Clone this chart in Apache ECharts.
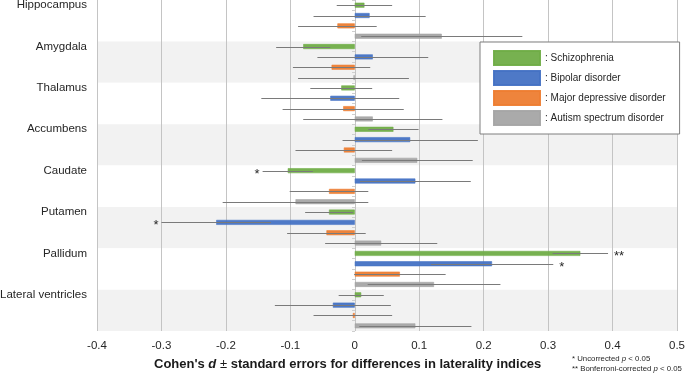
<!DOCTYPE html>
<html>
<head>
<meta charset="utf-8">
<script src="https://cdn.jsdelivr.net/npm/echarts@6/dist/echarts.min.js"></script>
<style>
  html, body { margin: 0; padding: 0; background: #fff; }
  #container { width: 685px; height: 374px; }
</style>
</head>
<body>
<div id="container"></div>
<script>
// regions, top to bottom
const regions = ['Hippocampus', 'Amygdala', 'Thalamus', 'Accumbens', 'Caudate', 'Putamen', 'Pallidum', 'Lateral ventricles'];
const disorders = ['Schizophrenia', 'Bipolar disorder', 'Major depressive disorder', 'Autism spectrum disorder'];
const colors = ['#70ad47', '#4472c4', '#ed7d31', '#a5a5a5'];

// Cohen's d per region
const sczD = [0.015, -0.080, -0.021, 0.060, -0.104, -0.040, 0.350, 0.010];
const bdD = [0.023, 0.028, -0.038, 0.086, 0.094, -0.215, 0.213, -0.034];
const mddD = [-0.027, -0.036, -0.018, -0.017, -0.040, -0.044, 0.070, -0.003];
const asdD = [0.135, -0.002, 0.028, 0.097, -0.092, 0.041, 0.123, 0.094];

// standard errors
const sczSE = [0.043, 0.042, 0.048, 0.039, 0.039, 0.037, 0.043, 0.035];
const bdSE = [0.087, 0.086, 0.107, 0.105, 0.086, 0.085, 0.095, 0.090];
const mddSE = [0.061, 0.060, 0.094, 0.075, 0.061, 0.061, 0.071, 0.061];
const asdSE = [0.125, 0.086, 0.108, 0.086, 0.113, 0.087, 0.103, 0.087];

// significance marks
const sczSig = ['', '', '', '', '*', '', '**', ''];
const bdSig = ['', '', '', '', '', '*', '*', ''];
const mddSig = ['', '', '', '', '', '', '', ''];
const asdSig = ['', '', '', '', '', '', '', ''];

const xTicks = { min: -0.4, max: 0.5, step: 0.1 };

const allD = [sczD, bdD, mddD, asdD];
const allSE = [sczSE, bdSE, mddSE, asdSE];
const allSig = [sczSig, bdSig, mddSig, asdSig];

// one category slot for each region x disorder
const cats = [];
regions.forEach(function (r) {
  disorders.forEach(function (d) { cats.push(r + '|' + d); });
});

const barSeries = disorders.map(function (name, k) {
  const data = cats.map(function () { return '-'; });
  regions.forEach(function (r, i) { data[i * 4 + k] = allD[k][i]; });
  return {
    name: name,
    type: 'bar',
    barWidth: 5,
    barGap: '-100%',
    itemStyle: { color: colors[k], borderColor: colors[k], borderWidth: 0.6, opacity: 0.95 },
    data: data,
    z: 2
  };
});

const errData = [];
const errMarks = [];
regions.forEach(function (r, i) {
  disorders.forEach(function (d, k) {
    const v = allD[k][i], s = allSE[k][i];
    errData.push([i * 4 + k, v - s, v + s, v]);
    errMarks.push(allSig[k][i]);
  });
});

const container = document.getElementById('container');
const myChart = echarts.init(container);

const option = {
  animation: false,
  backgroundColor: '#fff',
  textStyle: { fontFamily: 'Liberation Sans, Arial, sans-serif' },
  grid: { left: 97, right: 8, top: 0, bottom: 43, outerBoundsMode: 'none', containLabel: false },
  legend: {
    data: disorders,
    orient: 'vertical',
    left: 480,
    top: 42,
    padding: [8, 14, 8, 13],
    itemWidth: 46,
    itemHeight: 14,
    itemGap: 4,
    icon: 'rect',
    backgroundColor: '#fff',
    borderColor: '#7f7f7f',
    borderWidth: 1,
    formatter: function (name) { return ': ' + name; },
    textStyle: { fontSize: 10, color: '#262626', fontFamily: 'Liberation Sans, Arial, sans-serif' }
  },
  xAxis: {
    type: 'value',
    min: xTicks.min,
    max: xTicks.max,
    interval: xTicks.step,
    axisLine: { show: false },
    axisTick: { show: false },
    axisLabel: { fontSize: 11.5, color: '#262626', margin: 9 },
    splitLine: { show: true, lineStyle: { color: '#c4c4c4', width: 1 } }
  },
  yAxis: [{
    type: 'category',
    data: cats,
    inverse: true,
    axisLine: { show: false },
    axisTick: { show: false },
    axisLabel: {
      interval: 3,
      fontSize: 11.5,
      color: '#262626',
      margin: 10,
      formatter: function (v) { return v.split('|')[0]; }
    },
    splitLine: { show: false },
    splitArea: { show: true, interval: 3, areaStyle: { color: ['#ffffff', '#f2f2f2'] } }
  }, {
    // little ticks along the zero line
    type: 'category',
    data: cats,
    inverse: true,
    position: 'left',
    offset: -258,
    axisLine: { show: false },
    axisTick: { show: true, interval: 0, length: 3, lineStyle: { color: '#cfcfcf' } },
    axisLabel: { show: false },
    splitLine: { show: false }
  }],
  series: barSeries.concat([{
    type: 'custom',
    name: 'se',
    z: 3,
    encode: { x: [1, 2], y: 0 },
    data: errData,
    renderItem: function (params, api) {
      const y = api.value(0);
      const lo = api.coord([api.value(1), y]);
      const hi = api.coord([api.value(2), y]);
      const yy = Math.round(lo[1]) + 0.5;
      const children = [{
        type: 'line',
        shape: { x1: lo[0], y1: yy, x2: hi[0], y2: yy },
        style: { stroke: '#7a7a7a', lineWidth: 1 }
      }];
      const mark = errMarks[params.dataIndex];
      if (mark) {
        const left = api.value(3) < 0;
        children.push({
          type: 'text',
          x: left ? lo[0] - 3 : hi[0] + 6,
          y: yy + 3,
          style: {
            text: mark,
            fontSize: 13,
            fill: '#262626',
            align: left ? 'right' : 'left',
            verticalAlign: 'middle',
            fontFamily: 'Liberation Sans, Arial, sans-serif'
          }
        });
      }
      return { type: 'group', children: children };
    }
  }]),
  graphic: [{
    type: 'text',
    left: 154,
    top: 358,
    style: {
      text: '{b|Cohen\'s }{bi|d}{n| ± }{b|standard errors for differences in laterality indices}',
      rich: {
        b: { fontSize: 13, fontWeight: 'bold', fill: '#1a1a1a', fontFamily: 'Liberation Sans, Arial, sans-serif' },
        bi: { fontSize: 13, fontWeight: 'bold', fontStyle: 'italic', fill: '#1a1a1a', fontFamily: 'Liberation Sans, Arial, sans-serif' },
        n: { fontSize: 13, fill: '#1a1a1a', fontFamily: 'Liberation Sans, Arial, sans-serif' }
      }
    }
  }, {
    type: 'text',
    left: 572,
    top: 355,
    style: {
      text: '{t|* Uncorrected }{i|p}{t| < 0.05}\n{t|** Bonferroni-corrected }{i|p}{t| < 0.05}',
      rich: {
        t: { fontSize: 7.8, fill: '#262626', lineHeight: 9.5, fontFamily: 'Liberation Sans, Arial, sans-serif' },
        i: { fontSize: 7.8, fontStyle: 'italic', fill: '#262626', lineHeight: 9.5, fontFamily: 'Liberation Sans, Arial, sans-serif' }
      }
    }
  }]
};

myChart.setOption(option);
</script>
</body>
</html>
